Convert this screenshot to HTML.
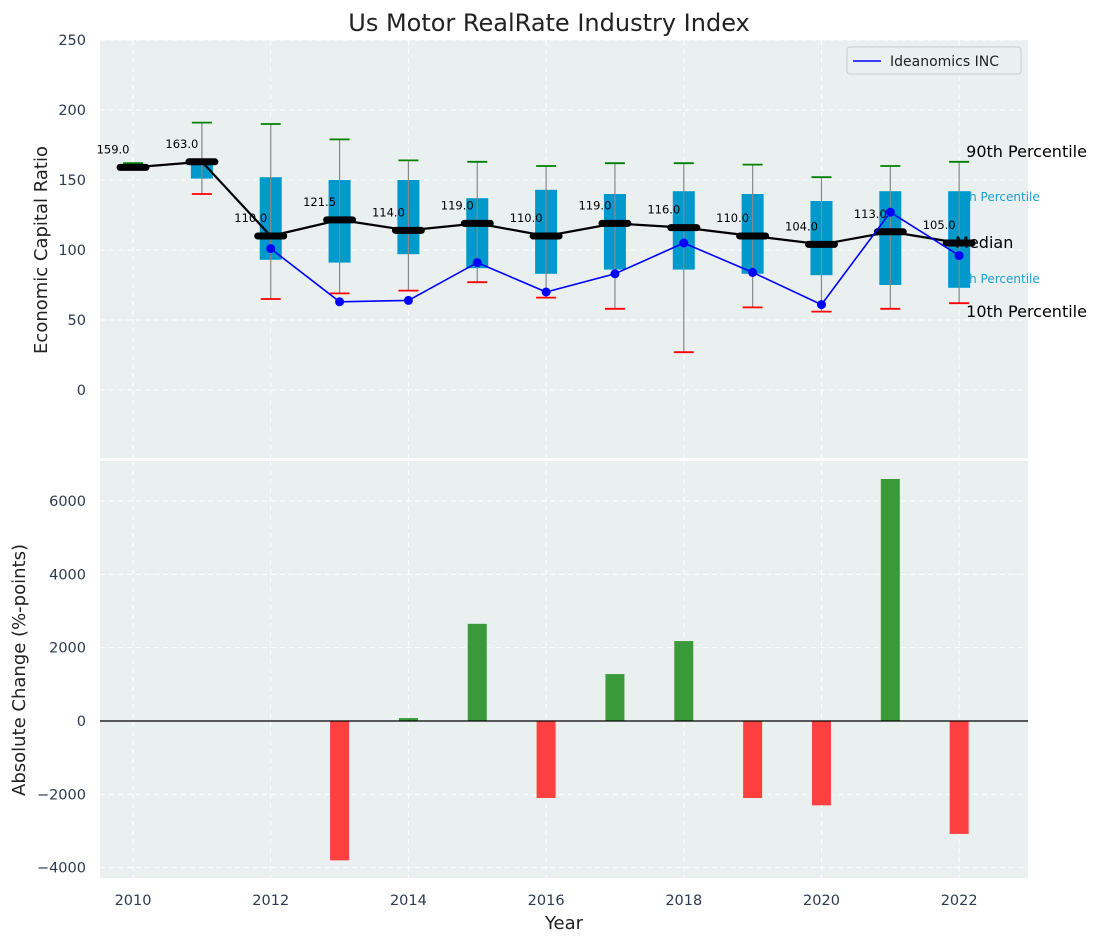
<!DOCTYPE html>
<html><head><meta charset="utf-8"><style>
body{margin:0;background:#fff;font-family:"Liberation Sans","DejaVu Sans",sans-serif}
svg text{font-family:"DejaVu Sans","Liberation Sans",sans-serif}
</style></head><body>
<svg id="c" width="1103" height="942" xmlns="http://www.w3.org/2000/svg"></svg>
<script>
const years=[2010,2011,2012,2013,2014,2015,2016,2017,2018,2019,2020,2021,2022];
const p10=[159,140,65,69,71,77,66,58,27,59,56,58,62];
const p25=[159,151,93,91,97,87,83,86,86,83,82,75,73];
const medians=[159,163,110,121.5,114,119,110,119,116,110,104,113,105];
const p75=[160,163,152,150,150,137,143,140,142,140,135,142,142];
const p90=[162,191,190,179,164,163,160,162,162,161,152,160,163];
const lineYears=[2012,2013,2014,2015,2016,2017,2018,2019,2020,2021,2022];
const ideanomics=[101,63,64,91,70,83,105,84,61,127,96];
const barYears=[2013,2014,2015,2016,2017,2018,2019,2020,2021,2022];
const changes=[-3800,80,2650,-2100,1280,2180,-2100,-2300,6600,-3080];
const topTicks=[0,50,100,150,200,250];
const botTicks=[-4000,-2000,0,2000,4000,6000];
const xTicks=[2010,2012,2014,2016,2018,2020,2022];

const NS='http://www.w3.org/2000/svg',svg=document.getElementById('c');
function el(t,a,p){const e=document.createElementNS(NS,t);for(const k in a)e.setAttribute(k,a[k]);(p||svg).appendChild(e);return e;}
const L=100,R=1028;
const X=v=>L+(v-2009.52)/(2023.0-2009.52)*(R-L);
const YT=v=>390-v*1.4;
const YB=v=>721-v*(220/6000);
const TC='#2e3a4e';

let e=el('rect',{x:L,y:40,width:R-L,height:418,fill:'#eaeff0'});

e=el('rect',{x:L,y:461,width:R-L,height:417,fill:'#eaeff0'});


xTicks.forEach(t=>{
  el('line',{x1:X(t),x2:X(t),y1:40,y2:458,stroke:'#fff','stroke-dasharray':'5,4'});
  el('line',{x1:X(t),x2:X(t),y1:461,y2:878,stroke:'#fff','stroke-dasharray':'5,4'});
  const tx=el('text',{x:X(t),y:905,'font-size':14.5,fill:TC,'text-anchor':'middle'});tx.textContent=t;
  
});
topTicks.forEach(t=>{
  el('line',{x1:L,x2:R,y1:YT(t),y2:YT(t),stroke:'#fff','stroke-dasharray':'5,4'});
  const tx=el('text',{x:86,y:YT(t)+5,'font-size':14.5,fill:TC,'text-anchor':'end'});tx.textContent=t;
  
});
botTicks.forEach(t=>{
  el('line',{x1:L,x2:R,y1:YB(t),y2:YB(t),stroke:'#fff','stroke-dasharray':'5,4'});
  const tx=el('text',{x:86,y:YB(t)+5,'font-size':14.5,fill:TC,'text-anchor':'end'});tx.textContent=(t<0?'\u2212'+(-t):t);
  
});

[['90th Percentile',X(2022)+7,157,16,'#000'],['75th Percentile',X(2022)-10,201,12,'#1a9fd0'],['25th Percentile',X(2022)-10,283,12,'#1a9fd0'],['10th Percentile',X(2022)+7,317,16,'#000']].forEach(a=>{
  const tx=el('text',{x:a[1],y:a[2],'font-size':a[3],fill:a[4]});
  tx.textContent=a[0];
  
});

years.forEach((y,i)=>{
  const cx=X(y);
  const b=el('rect',{x:cx-11,y:YT(p75[i]),width:22,height:Math.max(0.5,YT(p25[i])-YT(p75[i])),fill:'#0099cc'});
  
  const w=el('line',{x1:cx,x2:cx,y1:YT(p90[i]),y2:YT(p10[i]),stroke:'#888','stroke-width':1.2});
  
  const g=el('line',{x1:cx-10,x2:cx+10,y1:YT(p90[i]),y2:YT(p90[i]),stroke:'green','stroke-width':1.8});
  
  const r=el('line',{x1:cx-10,x2:cx+10,y1:YT(p10[i]),y2:YT(p10[i]),stroke:'red','stroke-width':1.8});
  
});
let pts=years.map((y,i)=>X(y)+','+YT(medians[i])).join(' ');
e=el('polyline',{points:pts,fill:'none',stroke:'#000','stroke-width':2.2});

years.forEach((y,i)=>{
  const m=el('line',{x1:X(y)-13,x2:X(y)+13,y1:YT(medians[i]),y2:YT(medians[i]),stroke:'#000','stroke-width':7,'stroke-linecap':'round'});
  
  const t=el('text',{x:X(y)-20,y:YT(medians[i])-14,'font-size':11.5,fill:'#000','text-anchor':'middle'});
  t.textContent=medians[i].toFixed(1);
  
});
e=el('text',{x:X(2022)-4,y:248,'font-size':16,fill:'#000'});e.textContent='Median';

pts=lineYears.map((y,i)=>X(y)+','+YT(ideanomics[i])).join(' ');
e=el('polyline',{points:pts,fill:'none',stroke:'blue','stroke-width':1.6});

lineYears.forEach((y,i)=>{
  const c=el('circle',{cx:X(y),cy:YT(ideanomics[i]),r:4.5,fill:'blue'});
  
});

e=el('rect',{x:847,y:47,width:174,height:27,rx:3,fill:'#eaeff0',stroke:'#ccc'});

el('line',{x1:853,x2:881,y1:61,y2:61,stroke:'blue','stroke-width':1.6});
e=el('text',{x:890,y:66,'font-size':14,fill:'#222'});e.textContent='Ideanomics INC';


barYears.forEach((y,i)=>{
  const v=changes[i],y0=YB(Math.max(0,v)),h=Math.abs(YB(v)-YB(0));
  const b=el('rect',{x:X(y)-9.5,y:y0,width:19,height:h,fill:v>=0?'#3a9a3a':'#ff4040'});
  
});
el('line',{x1:L,x2:R,y1:YB(0),y2:YB(0),stroke:'#000','stroke-width':1.2});

e=el('text',{x:549,y:31,'font-size':24,fill:'#222','text-anchor':'middle'});e.textContent='Us Motor RealRate Industry Index';

e=el('text',{x:564,y:929,'font-size':18,fill:'#222','text-anchor':'middle'});e.textContent='Year';

e=el('text',{x:0,y:0,'font-size':18,fill:'#222','text-anchor':'middle',transform:'translate(47,250) rotate(-90)'});e.textContent='Economic Capital Ratio';

e=el('text',{x:0,y:0,'font-size':18,fill:'#222','text-anchor':'middle',transform:'translate(25,670) rotate(-90)'});e.textContent='Absolute Change (%-points)';

</script>
</body></html>
